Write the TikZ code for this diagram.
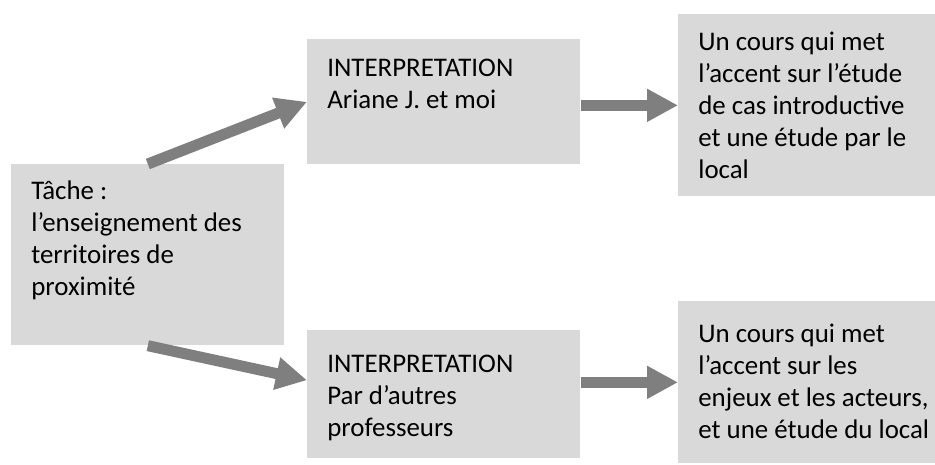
\documentclass[tikz,border=0pt]{standalone}
\usepackage{fontspec}
\setmainfont{Carlito}
\usepackage{xcolor}
\usetikzlibrary{arrows.meta, calc}

\definecolor{boxgrey}{HTML}{D9D9D9}
\definecolor{arrowgrey}{HTML}{7F7F7F}

% text of a box: width, height, top pad, lines
\newcommand{\boxtext}[4]{%
  \begin{minipage}[t][#2][t]{#1}\leftskip=0.4cm\relax
  \vspace*{#3}\strut#4\end{minipage}}

\begin{document}
\begin{tikzpicture}[
    x=0.02cm, y=-0.02cm,
    panel/.style={fill=boxgrey, anchor=north west, inner sep=0pt,
                  font=\fontsize{15.3}{18.2}\selectfont},
    flow/.style={-{Triangle[length=0.62cm, width=0.62cm]},
                 line width=0.22cm, draw=arrowgrey},
]
\useasboundingbox (0,0) rectangle (935,464);
\node[panel] (task)    at (11,164)  {\boxtext{5.46cm}{3.62cm}{0.25cm}{Tâche :\\ l’enseignement des\\ territoires de\\ proximité}};
\node[panel] (interp1) at (307,39)  {\boxtext{5.46cm}{2.5cm}{0.3cm}{INTERPRETATION\\ Ariane J. et moi}};
\node[panel] (result1) at (678,14)  {\boxtext{5.14cm}{3.64cm}{0.27cm}{Un cours qui met\\ l’accent sur l’étude\\ de cas introductive\\ et une étude par le\\ local}};
\node[panel] (interp2) at (307,330) {\boxtext{5.46cm}{2.56cm}{0.4cm}{INTERPRETATION\\ Par d’autres\\ professeurs}};
\node[panel] (result2) at (678,301) {\boxtext{5.14cm}{3.24cm}{0.38cm}{Un cours qui met\\ l’accent sur les\\ enjeux et les acteurs,\\ et une étude du local}};
\draw[flow] (task.north) -- (interp1.west);
\draw[flow] (task.south) -- ($(interp2.north west)!0.39!(interp2.south west)$);
\draw[flow] (interp1.east |- result1.west) -- (result1.west);
\draw[flow] (interp2.east |- result2.west) -- (result2.west);
\end{tikzpicture}
\end{document}
